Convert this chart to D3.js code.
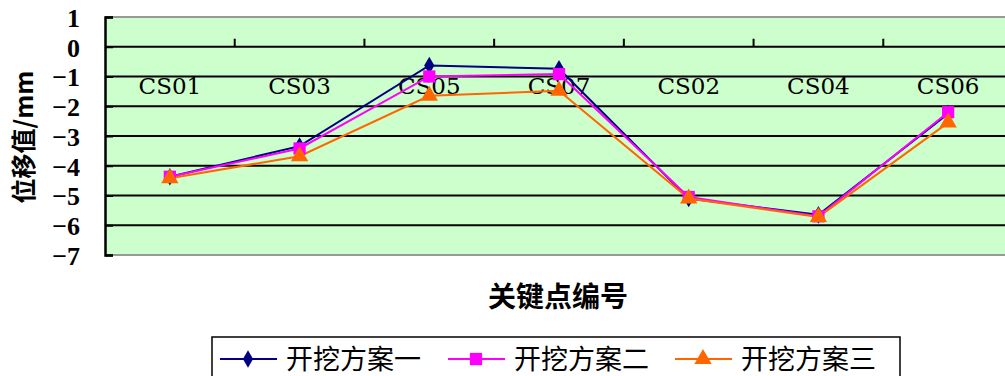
<!DOCTYPE html>
<html>
<head>
<meta charset="utf-8">
<script src="https://cdn.jsdelivr.net/npm/d3@7"></script>
<style>
  body { margin: 0; background: #fff; }
  svg { display: block; }
</style>
</head>
<body>
<svg id="chart"></svg>
<script>
// Chart data
const categories = ["CS01", "CS03", "CS05", "CS07", "CS02", "CS04", "CS06"];
const seriesNames = ["开挖方案一", "开挖方案二", "开挖方案三"];
const plan1 = [-4.37, -3.34, -0.63, -0.74, -5.1, -5.65, -2.25];
const plan2 = [-4.37, -3.42, -1.0, -0.92, -5.05, -5.7, -2.2];
const plan3 = [-4.42, -3.68, -1.65, -1.48, -5.1, -5.72, -2.55];
const yTicks = [1, 0, -1, -2, -3, -4, -5, -6, -7];

const seriesValues = [plan1, plan2, plan3];
const colors = ["#000080", "#FF00FF", "#FF6600"];
const symbols = [d3.symbolDiamond, d3.symbolSquare, d3.symbolTriangle];
const symbolSizes = [90, 150, 130];

const width = 1005, height = 376;
const plot = { left: 105, right: 1013, top: 17, bottom: 255 };

const svg = d3.select("#chart").attr("width", width).attr("height", height);

// Scales
const x = d3.scaleBand().domain(categories).range([plot.left, plot.right]).padding(0);
const y = d3.scaleLinear().domain([-7, 1]).range([plot.bottom, plot.top]);
const cx = (c) => x(c) + x.bandwidth() / 2;

// Plot background
svg.append("rect")
    .attr("x", plot.left).attr("y", plot.top)
    .attr("width", plot.right - plot.left).attr("height", plot.bottom - plot.top)
    .attr("fill", "#CCFFCC");

// Grid lines
svg.append("g")
    .selectAll("line")
    .data(yTicks.filter((t) => t < 1 && t > -7))
    .enter()
    .append("line")
    .attr("x1", plot.left).attr("x2", plot.right)
    .attr("y1", (d) => y(d)).attr("y2", (d) => y(d))
    .attr("stroke", "#000").attr("stroke-width", 2);

// Top and bottom border
[1, -7].forEach((v) => {
    svg.append("line")
        .attr("x1", plot.left).attr("x2", plot.right)
        .attr("y1", y(v)).attr("y2", y(v))
        .attr("stroke", "#999").attr("stroke-width", 2);
});

// Y axis
const yAxis = svg.append("g")
    .attr("transform", "translate(" + plot.left + ",0)")
    .call(d3.axisLeft(y).tickValues(yTicks).tickFormat(d3.format("d")).tickSize(-8).tickPadding(25));
yAxis.select(".domain").attr("stroke", "#000").attr("stroke-width", 2.5);
yAxis.selectAll(".tick line").attr("stroke", "#000").attr("stroke-width", 2);
yAxis.selectAll("text")
    .attr("font-family", "'Liberation Serif', serif")
    .attr("font-weight", "bold")
    .attr("font-size", "26px")
    .attr("fill", "#000")
    .attr("dy", "0.36em");

// X axis on the zero line, ticks pointing up
const xBoundaries = categories.slice(1).map((c) => x(c));
svg.append("g")
    .selectAll("line")
    .data(xBoundaries)
    .enter()
    .append("line")
    .attr("x1", (d) => d).attr("x2", (d) => d)
    .attr("y1", y(0)).attr("y2", y(0) - 8)
    .attr("stroke", "#000").attr("stroke-width", 2);

// Category labels
svg.append("g")
    .selectAll("text")
    .data(categories)
    .enter()
    .append("text")
    .attr("x", (d) => cx(d))
    .attr("y", 94)
    .attr("text-anchor", "middle")
    .attr("font-family", "'DejaVu Serif', serif")
    .attr("font-size", "23px")
    .attr("fill", "#000")
    .text((d) => d);

// Series lines and markers
seriesValues.forEach((vals, i) => {
    const line = d3.line().x((d, j) => cx(categories[j])).y((d) => y(d));
    svg.append("path")
        .datum(vals)
        .attr("d", line)
        .attr("fill", "none")
        .attr("stroke", colors[i])
        .attr("stroke-width", 2);
});
seriesValues.forEach((vals, i) => {
    svg.append("g")
        .selectAll("path")
        .data(vals)
        .enter()
        .append("path")
        .attr("d", d3.symbol().type(symbols[i]).size(symbolSizes[i]))
        .attr("transform", (d, j) => "translate(" + cx(categories[j]) + "," + y(d) + ")")
        .attr("fill", colors[i]);
});

// Axis titles
svg.append("text")
    .attr("transform", "translate(33,137) rotate(-90)")
    .attr("text-anchor", "middle")
    .attr("font-family", "'Noto Sans CJK SC', sans-serif")
    .attr("font-weight", "bold")
    .attr("font-size", "25px")
    .attr("fill", "#000")
    .text("位移值/mm");

svg.append("text")
    .attr("x", 558)
    .attr("y", 307)
    .attr("text-anchor", "middle")
    .attr("font-family", "'Noto Sans CJK SC', sans-serif")
    .attr("font-weight", "bold")
    .attr("font-size", "28px")
    .attr("fill", "#000")
    .text("关键点编号");

// Legend
const legend = svg.append("g");
legend.append("rect")
    .attr("x", 212).attr("y", 337)
    .attr("width", 688).attr("height", 50)
    .attr("fill", "#fff").attr("stroke", "#000").attr("stroke-width", 1.5);

const legendX = [220, 448, 675];
seriesNames.forEach((name, i) => {
    const lx = legendX[i];
    legend.append("line")
        .attr("x1", lx).attr("x2", lx + 57)
        .attr("y1", 359).attr("y2", 359)
        .attr("stroke", colors[i]).attr("stroke-width", 2);
    legend.append("path")
        .attr("d", d3.symbol().type(symbols[i]).size(symbolSizes[i]))
        .attr("transform", "translate(" + (lx + 28) + ",359)")
        .attr("fill", colors[i]);
    legend.append("text")
        .attr("x", lx + 66)
        .attr("y", 369)
        .attr("font-family", "'Noto Sans CJK SC', sans-serif")
        .attr("font-size", "27px")
        .attr("fill", "#000")
        .text(name);
});
</script>
</body>
</html>
